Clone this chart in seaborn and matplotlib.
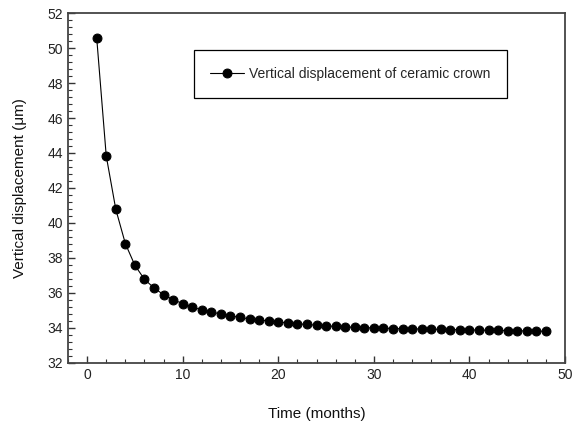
import matplotlib
matplotlib.use("Agg")
import matplotlib.pyplot as plt
import seaborn as sns
import pandas as pd
from matplotlib.ticker import MultipleLocator

months = list(range(1, 49))
displacement = [50.59, 43.83, 40.78, 38.82, 37.58, 36.78, 36.29, 35.90, 35.62, 35.39,
                35.20, 35.03, 34.91, 34.80, 34.70, 34.60, 34.52, 34.46, 34.40, 34.34,
                34.29, 34.24, 34.20, 34.16, 34.12, 34.09, 34.06, 34.04, 34.02, 34.00,
                33.99, 33.97, 33.96, 33.95, 33.94, 33.93, 33.92, 33.91, 33.90, 33.89,
                33.88, 33.87, 33.86, 33.85, 33.84, 33.83, 33.82, 33.81]
series_label = "Vertical displacement of ceramic crown"

df = pd.DataFrame({"Time": months, "Disp": displacement})

sns.set_style("ticks")
plt.rcParams['font.family'] = ['Liberation Sans', 'DejaVu Sans']

fig = plt.figure(figsize=(5.72, 4.25), dpi=100)
ax = fig.add_axes([0.1189, 0.1459, 0.8689, 0.8235])

sns.lineplot(data=df, x="Time", y="Disp", ax=ax, color="black", marker="o",
             markersize=6.4, markeredgecolor="black", linewidth=0.8,
             label=series_label)

ax.set_xlim(-2, 50)
ax.set_ylim(32, 52)
ax.xaxis.set_major_locator(MultipleLocator(10))
ax.xaxis.set_minor_locator(MultipleLocator(2))
ax.yaxis.set_major_locator(MultipleLocator(2))
ax.yaxis.set_minor_locator(MultipleLocator(0.4))
ax.tick_params(which="both", direction="in", colors="#333333", labelcolor="#222222",
               labelsize=10, top=False, right=False)
ax.tick_params(which="major", length=5, width=1)
ax.tick_params(which="minor", length=3, width=0.8)
for s in ax.spines.values():
    s.set_linewidth(1.3)
    s.set_color("#444444")

ax.set_xlabel("Time (months)", fontsize=11, labelpad=18, color="#111111")
ax.set_ylabel("Vertical displacement (μm)", fontsize=11, labelpad=15, color="#111111")

leg = ax.legend(loc="center", bbox_to_anchor=(0.568, 0.826), frameon=True,
                fancybox=False, edgecolor="black", fontsize=10, handlelength=2.4,
                borderpad=1.2, handletextpad=0.4, borderaxespad=0)
leg.get_frame().set_linewidth(0.9)
leg.get_frame().set_alpha(1)

fig.savefig("out.png", dpi=100)
